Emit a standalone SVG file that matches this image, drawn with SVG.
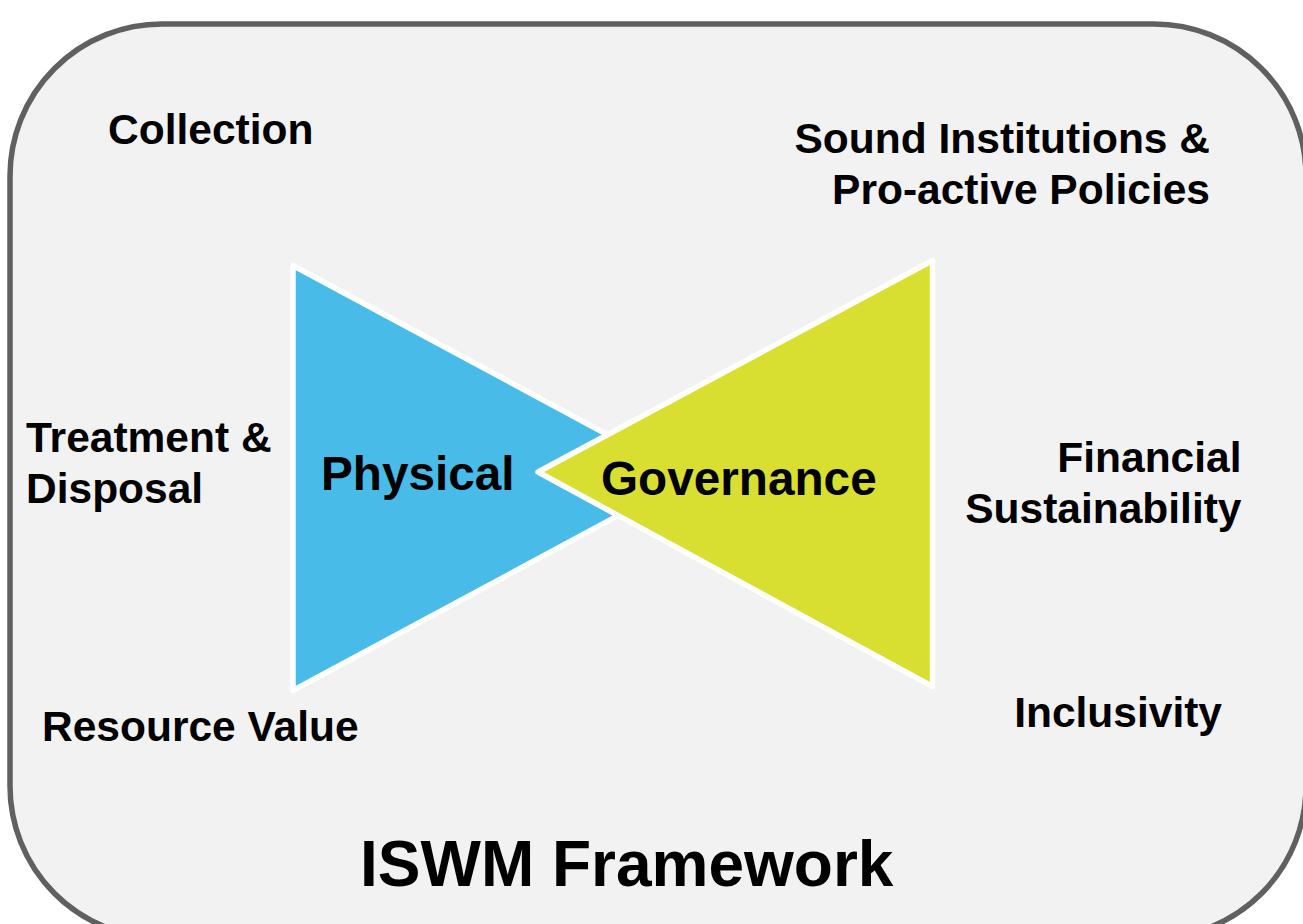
<svg xmlns="http://www.w3.org/2000/svg" width="1303" height="924" viewBox="0 0 1303 924">
<style>
text{font-family:"Liberation Sans",Arial,sans-serif;font-weight:700;fill:#000}
.l{font-size:42.5px}
.m{font-size:47.7px}
.tri{stroke:#fff;stroke-width:5.5;stroke-linejoin:round}
</style>
<rect width="1303" height="924" fill="#fff"/>
<rect id="frame" x="10" y="24" width="1296" height="914" rx="152" ry="152" fill="#f2f2f2" stroke="#606060" stroke-width="5.5"/>
<g id="physical"><polygon class="tri" points="293,265.500 293,690.500 688,478" fill="#49bbe9"/><text class="m" x="321" y="490">Physical</text></g>
<g id="governance"><polygon class="tri" points="932.500,260.500 932.500,686.500 538,472" fill="#d8df31"/><text class="m" x="601" y="495">Governance</text></g>
<g id="collection"><text class="l" x="108" y="144">Collection</text></g>
<g id="treatment"><text class="l" x="26" y="452">Treatment &amp;</text><text class="l" x="26" y="503">Disposal</text></g>
<g id="resource"><text class="l" x="42" y="741">Resource Value</text></g>
<g id="institutions"><text class="l" x="1210" y="153" text-anchor="end">Sound Institutions &amp;</text><text class="l" x="1210" y="204" text-anchor="end">Pro-active Policies</text></g>
<g id="financial"><text class="l" x="1241.500" y="472" text-anchor="end">Financial</text><text class="l" x="1241.500" y="523" text-anchor="end">Sustainability</text></g>
<g id="inclusivity"><text class="l" x="1222" y="727" text-anchor="end">Inclusivity</text></g>
<g id="title"><text x="360" y="886" font-size="64">ISWM Framework</text></g>
<g id="connectors"/>
</svg>
